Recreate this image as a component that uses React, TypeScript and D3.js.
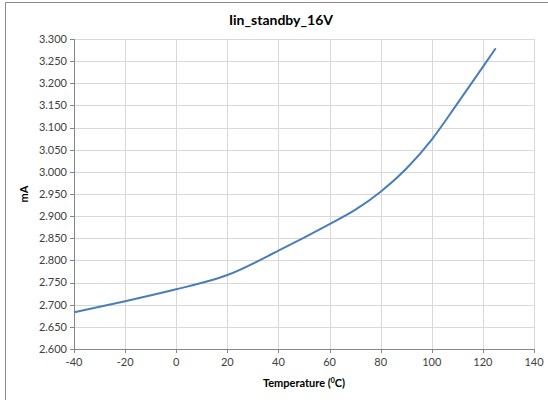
import React from "react";
import * as d3 from "d3";

const temps = [-40, -20, 0, 13, 20, 40, 60, 70, 80, 90, 100, 110, 120, 125];
const current = [2.683, 2.708, 2.735, 2.754, 2.767, 2.822, 2.882, 2.914, 2.955, 3.007, 3.073, 3.154, 3.237, 3.279];
const xTicks = [-40, -20, 0, 20, 40, 60, 80, 100, 120, 140];
const yTicks = [2.6, 2.65, 2.7, 2.75, 2.8, 2.85, 2.9, 2.95, 3.0, 3.05, 3.1, 3.15, 3.2, 3.25, 3.3];

const W = 548, H = 400;
const left = 74, right = 534, top = 39, bottom = 349;
const font = "Lato, 'Open Sans', sans-serif";

export default function App() {
  const x = d3.scaleLinear().domain([-40, 140]).range([left, right]);
  const y = d3.scaleLinear().domain([2.6, 3.3]).range([bottom, top]);
  const line = d3
    .line<number>()
    .x((_, i) => x(temps[i]))
    .y((d) => y(d))
    .curve(d3.curveMonotoneX);
  return (
    <svg width={W} height={H} style={{ position: "absolute", left: 0, top: 0 }} fontFamily={font}>
      <rect x={0} y={0} width={W} height={H} fill="#fff" />
      <line x1={5.5} x2={5.5} y1={2.5} y2={H} stroke="#8c8c8c" strokeWidth={1} />
      <line x1={5.5} x2={W} y1={2.5} y2={2.5} stroke="#8c8c8c" strokeWidth={1} />
      {yTicks.map((t) => (
        <line key={"gy" + t} x1={left} x2={right} y1={Math.round(y(t)) + 0.5} y2={Math.round(y(t)) + 0.5} stroke="#d9d9d9" strokeWidth={1} />
      ))}
      {xTicks.map((t) => (
        <line key={"gx" + t} x1={Math.round(x(t)) + 0.5} x2={Math.round(x(t)) + 0.5} y1={top} y2={bottom} stroke="#d9d9d9" strokeWidth={1} />
      ))}
      <line x1={left + 0.5} x2={left + 0.5} y1={top} y2={bottom} stroke="#868686" />
      <line x1={left} x2={right} y1={Math.round(bottom) + 0.5} y2={Math.round(bottom) + 0.5} stroke="#868686" />
      {yTicks.map((t) => (
        <g key={"ty" + t}>
          <line x1={left - 4} x2={left} y1={Math.round(y(t)) + 0.5} y2={Math.round(y(t)) + 0.5} stroke="#868686" />
          <text x={left - 7} y={y(t)} dy="0.35em" textAnchor="end" fontSize={11} fill="#404040">
            {d3.format(".3f")(t)}
          </text>
        </g>
      ))}
      {xTicks.map((t) => (
        <g key={"tx" + t}>
          <line x1={Math.round(x(t)) + 0.5} x2={Math.round(x(t)) + 0.5} y1={bottom} y2={bottom + 4} stroke="#868686" />
          <text x={x(t)} y={bottom + 17} textAnchor="middle" fontSize={11} fill="#404040">
            {t}
          </text>
        </g>
      ))}
      <path d={line(current) || ""} fill="none" stroke="#4a7ebb" strokeWidth={2} />
      <text x={281} y={25} textAnchor="middle" fontSize={14} fontWeight="bold" fill="#000">
        Iin_standby_16V
      </text>
      <text x={304} y={387} textAnchor="middle" fontSize={11} fontWeight="bold" fill="#000">
        Temperature (<tspan fontSize={7} dy={-4}>0</tspan><tspan dy={4}>C)</tspan>
      </text>
      <text transform={`translate(28,${y(2.95)}) rotate(-90)`} textAnchor="middle" fontSize={11} fontWeight="bold" fill="#000">
        mA
      </text>
    </svg>
  );
}
